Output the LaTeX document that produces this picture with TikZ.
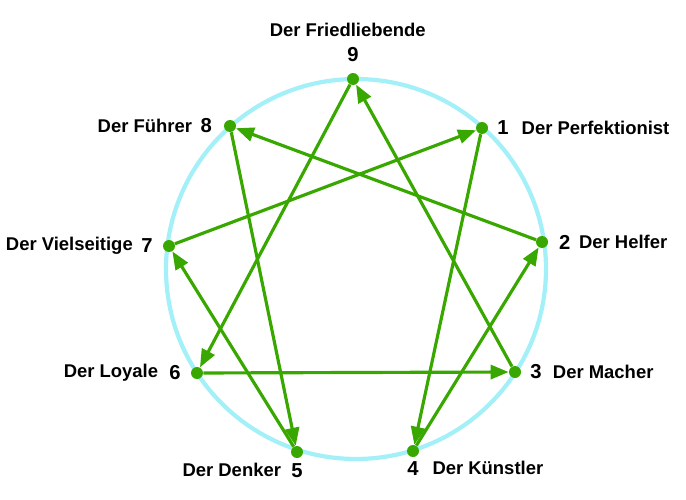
\documentclass[tikz,border=0pt]{standalone}
\usepackage{fontspec}
\setmainfont{Liberation Sans}
\usetikzlibrary{arrows.meta, positioning}
\definecolor{leaf}{HTML}{38A800}
\definecolor{halo}{HTML}{A4F0F8}

\begin{document}
\begin{tikzpicture}[
  x=0.2mm, y=-0.2mm,
  node distance=4pt,
  dot/.style={circle, fill=leaf, inner sep=0pt, minimum size=2.4mm},
  num/.style={font=\fontsize{11.5}{13}\selectfont\bfseries, inner sep=1pt},
  lbl/.style={font=\fontsize{10.5}{12}\selectfont\bfseries, inner sep=1pt},
  arr/.style={-{Triangle[length=3.6mm, width=2.8mm]}, draw=leaf, line width=1.8pt},
]
\useasboundingbox (0,0) rectangle (686,500);
\draw[halo, line width=2.4pt] (356,269) circle[radius=190];

% points on the ring
\node[dot] (p9) at (353,79)  {};
\node[dot] (p1) at (482,128) {};
\node[dot] (p2) at (542,242) {};
\node[dot] (p3) at (515,372) {};
\node[dot] (p4) at (413,451) {};
\node[dot] (p5) at (297,452) {};
\node[dot] (p6) at (197,373) {};
\node[dot] (p7) at (169,246) {};
\node[dot] (p8) at (230,126) {};

% numbers
\node[num, above=5pt of p9]   (n9) {9};
\node[num, right=4pt of p1]   (n1) {1};
\node[num, right=5pt of p2]   (n2) {2};
\node[num, right=4pt of p3]   (n3) {3};
\node[num, below=1pt of p4]   (n4) {4};
\node[num, below=1.5pt of p5] (n5) {5};
\node[num, left=4.5pt of p6]  (n6) {6};
\node[num, left=4.5pt of p7]  (n7) {7};
\node[num, left=5.5pt of p8]  (n8) {8};

% names
\node[lbl, above=3.5pt of n9, xshift=-3pt] (l9) {Der Friedliebende};
\node[lbl, right=5pt of n1]   (l1) {Der Perfektionist};
\node[lbl, right=2.5pt of n2] (l2) {Der Helfer};
\node[lbl, right=4pt of n3]   (l3) {Der Macher};
\node[lbl, right=5.5pt of n4] (l4) {Der Künstler};
\node[lbl, left=3.5pt of n5]  (l5) {Der Denker};
\node[lbl, left=4pt of n6]    (l6) {Der Loyale};
\node[lbl, left=2.5pt of n7]  (l7) {Der Vielseitige};
\node[lbl, left=2.5pt of n8]  (l8) {Der Führer};

% triangle
\draw[arr] (p9) -- (p6);
\draw[arr] (p6) -- (p3);
\draw[arr] (p3) -- (p9);

% hexad
\draw[arr] (p1) -- (p4);
\draw[arr] (p4) -- (p2);
\draw[arr] (p2) -- (p8);
\draw[arr] (p8) -- (p5);
\draw[arr] (p5) -- (p7);
\draw[arr] (p7) -- (p1);
\end{tikzpicture}
\end{document}
